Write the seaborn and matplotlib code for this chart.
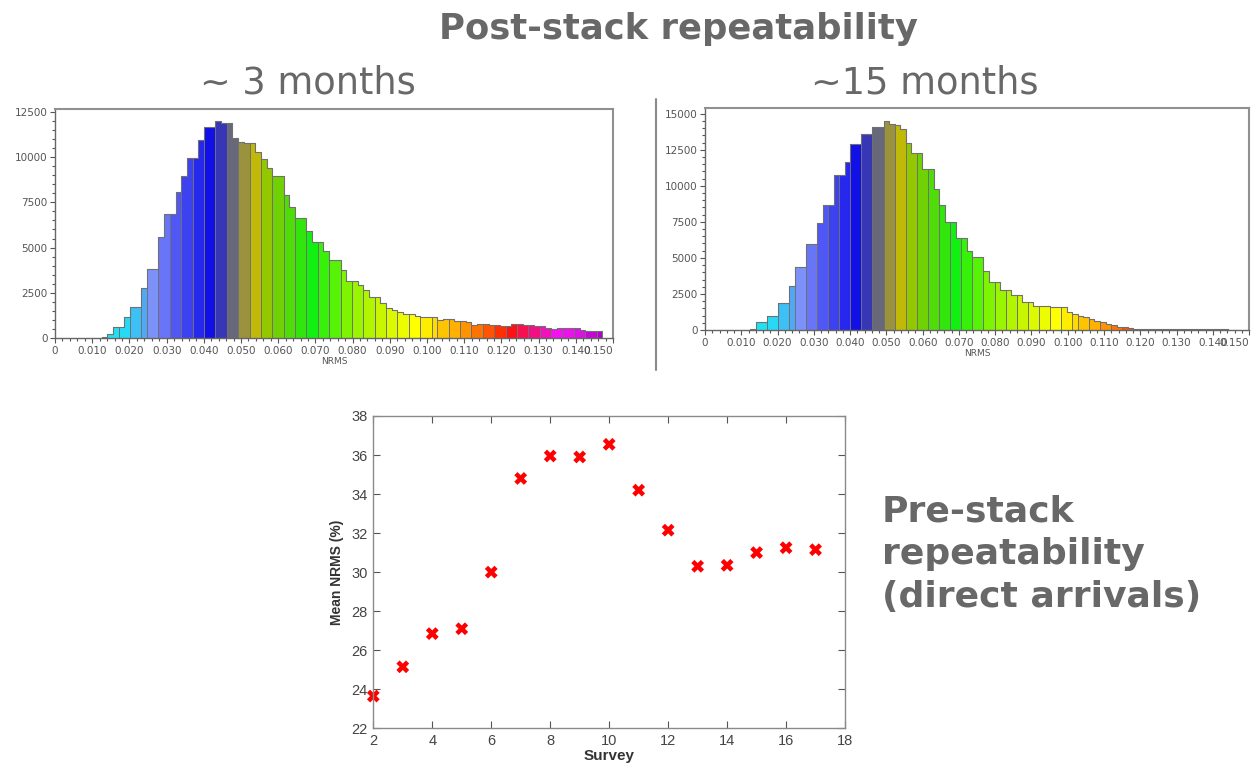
import numpy as np
import pandas as pd
import matplotlib
matplotlib.use("Agg")
import matplotlib.pyplot as plt
import seaborn as sns
from matplotlib.colors import LinearSegmentedColormap
from matplotlib.ticker import MultipleLocator, FixedLocator
from matplotlib.lines import Line2D

# histogram bins (NRMS)
bin_start = 0.0125
bin_width = 0.00153

counts_3m = [90, 240, 600, 600, 1176, 1728, 1728, 2760, 3842, 3842,
             5592, 6878, 6878, 8076, 8942, 9953, 9953, 10930, 11664, 11664,
             11978, 11885, 11885, 11057, 10820, 10781, 10781, 10267, 9898, 9362,
             8942, 8942, 7927, 7248, 6641, 6641, 5940, 5316, 5316, 4836,
             4340, 4340, 3754, 3146, 3146, 2960, 2685, 2263, 2263, 1950,
             1673, 1560, 1435, 1358, 1358, 1214, 1159, 1159, 1159, 1027,
             1082, 1082, 938, 938, 883, 751, 789, 789, 751, 751,
             662, 662, 789, 789, 718, 718, 662, 662, 569, 530,
             569, 569, 569, 569, 475, 420, 386, 386]

counts_15m = [69, 532, 532, 994, 994, 1850, 1850, 3054, 4395, 4395,
              5945, 5945, 7402, 8675, 8675, 10757, 10757, 11683, 12885, 12885,
              13579, 13579, 14066, 14066, 14528, 14296, 14227, 13949, 13000, 12300,
              12300, 11200, 11200, 9800, 8700, 7500, 7500, 6400, 6400, 5500,
              5050, 5050, 4100, 3300, 3300, 2780, 2780, 2430, 2430, 1970,
              1970, 1690, 1690, 1690, 1620, 1620, 1600, 1250, 1100, 994,
              900, 780, 600, 560, 400, 347, 231, 231, 116, 90,
              60, 60, 60, 60, 60, 60, 60, 55, 55, 55,
              85, 85, 45, 45, 45, 45, 25, 25]

survey = [2, 3, 4, 5, 6, 7, 8, 9, 10, 11, 12, 13, 14, 15, 16, 17]
mean_nrms = [23.65, 25.15, 26.85, 27.1, 30.0, 34.8, 35.95, 35.9,
             36.55, 34.2, 32.15, 30.3, 30.35, 31.0, 31.25, 31.15]

hist_xticks = [0, 0.01, 0.02, 0.03, 0.04, 0.05, 0.06, 0.07, 0.08,
               0.09, 0.10, 0.11, 0.12, 0.13, 0.14, 0.15]
hist_xlabels = ["0", "0.010", "0.020", "0.030", "0.040", "0.050", "0.060", "0.070",
                "0.080", "0.090", "0.100", "0.110", "0.120", "0.130", "0.140", "0.150"]

# colour ramp of the NRMS bars
anchors = [(0.0125, "#18E8F0"), (0.018, "#28D8F5"), (0.021, "#3CC0F5"),
           (0.024, "#55A5F5"), (0.027, "#8090F8"), (0.033, "#5058F5"),
           (0.042, "#1010E8"), (0.045, "#3C3CB0"), (0.048, "#6B6B78"),
           (0.051, "#9A923C"), (0.054, "#C6BE00"), (0.057, "#90C800"),
           (0.069, "#10F010"), (0.078, "#80F400"), (0.087, "#C8F600"),
           (0.096, "#FFFF00"), (0.102, "#FFDC00"), (0.108, "#FFB000"),
           (0.114, "#FF7800"), (0.120, "#FF3000"), (0.123, "#FF1010"),
           (0.129, "#F01080"), (0.135, "#F810F0"), (0.141, "#E010E8"),
           (0.147, "#B000C8")]

TXT = "#686868"

sns.set_theme(style="white")
plt.rcParams["font.family"] = ["DejaVu Sans"]

edges = bin_start + bin_width * np.arange(len(counts_3m) + 1)
centers = (edges[:-1] + edges[1:]) / 2

lo, hi = anchors[0][0], anchors[-1][0]
cmap = LinearSegmentedColormap.from_list(
    "nrms", [((v - lo) / (hi - lo), c) for v, c in anchors])


def bar_colors():
    block = np.floor((centers - 0.0195) / 0.003)
    mid = 0.0195 + 0.003 * (block + 0.5)
    cols = [cmap(np.clip((m - lo) / (hi - lo), 0, 1)) for m in mid]
    return cols, block


def nrms_hist(ax, counts, ytop):
    df = pd.DataFrame({"nrms": centers, "count": counts})
    n0 = len(ax.patches)
    sns.histplot(data=df, x="nrms", weights="count", bins=list(edges), ax=ax,
                 linewidth=0, alpha=1)
    cols, block = bar_colors()
    for p, c in zip(ax.patches[n0:], cols):
        p.set_facecolor(c)
    sns.histplot(data=df, x="nrms", weights="count", bins=list(edges), ax=ax,
                 element="step", fill=False, color="#707070", linewidth=0.8)
    h = np.asarray(counts, float)
    cut = np.where(np.diff(block) != 0)[0]
    ax.vlines(edges[cut + 1], 0, np.minimum(h[cut], h[cut + 1]),
              colors="#707070", linewidth=0.7)
    ax.vlines([edges[0], edges[-1]], 0, [h[0], h[-1]], colors="#707070", linewidth=0.7)

    ax.set_xlim(0, 0.15)
    ax.xaxis.set_major_locator(FixedLocator(hist_xticks))
    ax.set_xticklabels(hist_xlabels)
    ax.get_xticklabels()[-1].set_ha("right")
    ax.xaxis.set_minor_locator(MultipleLocator(0.002))
    ax.yaxis.set_major_locator(MultipleLocator(2500))
    ax.yaxis.set_minor_locator(MultipleLocator(500))
    ax.set_ylim(0, ytop)
    ax.tick_params(which="both", direction="out", colors="#555555",
                   labelsize=7.5, width=0.8, bottom=True, left=True)
    ax.tick_params(which="major", length=3.5, pad=2)
    ax.tick_params(which="minor", length=2)
    ax.set_ylabel("")
    ax.set_xlabel("NRMS", fontsize=6.5, color="#555555", labelpad=1)
    for s in ["top", "right"]:
        ax.spines[s].set_color("#909090")
        ax.spines[s].set_linewidth(1.5)
    for s in ["left", "bottom"]:
        ax.spines[s].set_color("#666666")
        ax.spines[s].set_linewidth(1.0)


fig = plt.figure(figsize=(12.51, 7.63), dpi=100)

ax1 = fig.add_axes([0.0440, 0.5566, 0.4460, 0.3005])
nrms_hist(ax1, counts_3m, 12640)

ax2 = fig.add_axes([0.5636, 0.5675, 0.4349, 0.2910])
nrms_hist(ax2, counts_15m, 15400)

# pre-stack scatter
ax3 = fig.add_axes([0.2984, 0.0455, 0.3771, 0.4093])
sns.scatterplot(x=survey, y=mean_nrms, marker="X", color="#FF0000", s=85,
                edgecolor="none", ax=ax3)
for coll in ax3.collections:
    coll.set_clip_on(False)
ax3.set_xlim(2, 18)
ax3.set_ylim(22, 38)
ax3.xaxis.set_major_locator(MultipleLocator(2))
ax3.yaxis.set_major_locator(MultipleLocator(2))
ax3.tick_params(direction="in", length=5, width=0.8, colors="#555555",
                labelcolor="#444444", labelsize=10.5, top=True, right=True,
                bottom=True, left=True, pad=4)
for lab in ax3.get_xticklabels() + ax3.get_yticklabels():
    lab.set_family(["Liberation Sans", "DejaVu Sans"])
for s in ax3.spines.values():
    s.set_color("#8a8a8a")
    s.set_linewidth(1.0)
ax3.set_ylabel("Mean NRMS (%)", fontsize=10, fontweight="bold", color="#333333",
               labelpad=5, family=["Liberation Sans", "DejaVu Sans"])
ax3.set_xlabel("Survey", fontsize=11, fontweight="bold", color="#333333",
               labelpad=1, family=["Liberation Sans", "DejaVu Sans"])

# slide text
fig.text(0.542, 0.962, "Post-stack repeatability", ha="center", va="center",
         fontsize=25.5, fontweight="bold", color=TXT)
fig.text(0.2462, 0.891, "~ 3 months", ha="center", va="center",
         fontsize=26.5, color=TXT)
fig.text(0.7394, 0.891, "~15 months", ha="center", va="center",
         fontsize=26.5, color=TXT)
fig.text(0.705, 0.352, "Pre-stack\nrepeatability\n(direct arrivals)", ha="left",
         va="top", fontsize=26, fontweight="bold", color=TXT, linespacing=1.32)

fig.add_artist(Line2D([0.5244, 0.5244], [0.515, 0.87], color="#8a8a8a", linewidth=1.5))

fig.savefig("out.png", dpi=100)
